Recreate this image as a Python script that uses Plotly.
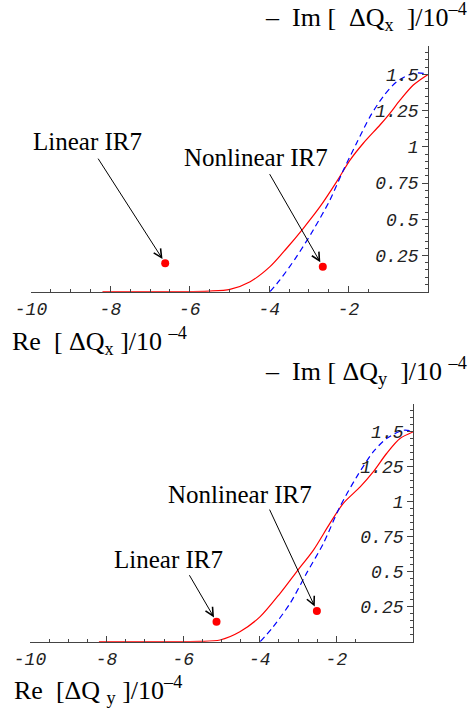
import plotly.graph_objects as go

# ---- data (top panel: x plane) ----
top_red_x = [-8.2, -6.5, -5.5, -4.99, -4.48, -3.98, -3.56, -3.14, -2.72, -2.30, -1.96, -1.63, -1.21, -0.96, -0.70, -0.37, 0.0]
top_red_y = [0.0, 0.0, 0.004, 0.016, 0.069, 0.173, 0.30, 0.438, 0.587, 0.76, 0.91, 1.025, 1.151, 1.232, 1.324, 1.427, 1.5]
top_blue_x = [-3.98, -3.73, -3.31, -2.89, -2.47, -2.13, -1.80, -1.46, -1.13, -0.79, -0.37, 0.0]
top_blue_y = [0.0, 0.081, 0.242, 0.426, 0.633, 0.84, 1.025, 1.209, 1.347, 1.45, 1.508, 1.505]
top_pts_x = [-6.62, -2.65]
top_pts_y = [0.197, 0.173]

# ---- data (bottom panel: y plane) ----
bot_red_x = [-8.2, -6.5, -5.56, -5.04, -4.52, -3.99, -3.47, -3.04, -2.60, -2.17, -1.82, -1.38, -1.04, -0.69, -0.34, 0.0]
bot_red_y = [0.0, 0.0, 0.002, 0.012, 0.071, 0.179, 0.346, 0.50, 0.655, 0.846, 0.989, 1.107, 1.214, 1.346, 1.453, 1.5]
bot_blue_x = [-3.99, -3.65, -3.21, -2.78, -2.34, -1.91, -1.47, -1.04, -0.69, -0.25, 0.0]
bot_blue_y = [0.0, 0.107, 0.274, 0.489, 0.703, 0.964, 1.179, 1.357, 1.453, 1.512, 1.505]
bot_pts_x = [-5.13, -2.51]
bot_pts_y = [0.143, 0.219]

point_labels = ["Linear IR7", "Nonlinear IR7"]

x_tickvals = [-10, -8, -6, -4, -2]
x_ticktext = ["-10", "-8", "-6", "-4", "-2"]
y_tickvals = [0.25, 0.5, 0.75, 1.0, 1.25, 1.5]
y_ticktext = ["0.25", "0.5", "0.75", "1", "1.25", "1.5"]

RED = "#ff0000"
BLUE = "#0000ff"
AX = "#444444"
W, H = 469, 711

fig = go.Figure()

def add_panel(xs, ys_, bx, by, px, py, xa, ya):
    fig.add_trace(go.Scatter(x=xs, y=ys_, mode="lines", line=dict(color=RED, width=1.2, shape="spline", smoothing=0.8),
                             xaxis=xa, yaxis=ya, showlegend=False))
    fig.add_trace(go.Scatter(x=bx, y=by, mode="lines",
                             line=dict(color=BLUE, width=1.2, dash="6px,4px", shape="spline", smoothing=0.8),
                             xaxis=xa, yaxis=ya, showlegend=False))
    fig.add_trace(go.Scatter(x=px, y=py, mode="markers", marker=dict(color=RED, size=8),
                             xaxis=xa, yaxis=ya, showlegend=False, cliponaxis=False))

add_panel(top_red_x, top_red_y, top_blue_x, top_blue_y, top_pts_x, top_pts_y, "x", "y")
add_panel(bot_red_x, bot_red_y, bot_blue_x, bot_blue_y, bot_pts_x, bot_pts_y, "x2", "y2")

tickfont = dict(family="Liberation Mono, Courier New, monospace", size=18, style="italic", color="#222222")

def xaxis_cfg(dom, anchor):
    return dict(domain=dom, anchor=anchor, range=[-10, 0], showgrid=False, zeroline=False, automargin=False,
                showline=True, linecolor=AX, linewidth=1.2, ticks="inside", ticklen=6,
                tickcolor=AX, tickwidth=1, tickvals=x_tickvals, ticktext=x_ticktext,
                tickfont=tickfont, ticklabelstandoff=1,
                minor=dict(dtick=0.5, tick0=0, ticks="inside", ticklen=3, tickcolor=AX, tickwidth=1))

def yaxis_cfg(dom, anchor):
    return dict(domain=dom, anchor=anchor, range=[0, 1.7], side="right", showgrid=False, zeroline=False,
                automargin=False,
                showline=True, linecolor=AX, linewidth=1.2, ticks="inside", ticklen=6,
                tickcolor=AX, tickwidth=1, tickvals=y_tickvals, ticktext=y_ticktext,
                tickfont=tickfont, ticklabelposition="inside", ticklabelstandoff=4,
                minor=dict(dtick=0.05, tick0=0, ticks="inside", ticklen=3, tickcolor=AX, tickwidth=1))

fig.update_layout(
    width=W, height=H, margin=dict(l=0, r=0, t=0, b=0, autoexpand=False),
    paper_bgcolor="white", plot_bgcolor="white",
    xaxis=xaxis_cfg([31 / W, 428 / W], "y"),
    yaxis=yaxis_cfg([1 - 291.7 / H, 1 - 45.5 / H], "x"),
    xaxis2=xaxis_cfg([30 / W, 413 / W], "y2"),
    yaxis2=yaxis_cfg([1 - 641.7 / H, 1 - 404 / H], "x2"),
)

NB = "\u00a0"
serif = "Liberation Serif, Times New Roman, serif"
title_font = dict(family=serif, size=26, color="black")
label_font = dict(family=serif, size=25, color="black")

titles = [
    (f"–{NB}{NB}Im{NB}[{NB}{NB}ΔQ<sub>x</sub>{NB}{NB}]/10<sup>–4</sup>", 469 / W, 1 - 17 / H, "right"),
    (f"Re{NB}{NB}[{NB}ΔQ<sub>x</sub>{NB}]/10{NB}<sup>–4</sup>", 10 / W, 1 - 341 / H, "left"),
    (f"–{NB}{NB}Im{NB}[{NB}ΔQ<sub>y</sub>{NB}{NB}]/10{NB}<sup>–4</sup>", 469 / W, 1 - 371 / H, "right"),
    (f"Re{NB}{NB}[ΔQ{NB}<sub>y</sub>{NB}]/10<sup>–4</sup>", 12 / W, 1 - 690 / H, "left"),
]
for t, x, y, xa in titles:
    fig.add_annotation(text=t, x=x, y=y, xref="paper", yref="paper", xanchor=xa, yanchor="middle",
                       showarrow=False, font=title_font)

# text labels (pixel placement) and arrows
labels = [
    (point_labels[0], 87, 142),
    (point_labels[1], 256, 157),
    (point_labels[1], 240, 494),
    (point_labels[0], 168, 559),
]
for t, x, y in labels:
    fig.add_annotation(text=t, x=x / W, y=1 - y / H, xref="paper", yref="paper", xanchor="center",
                       yanchor="middle", showarrow=False, font=label_font)

arrows = [
    (top_pts_x[0], top_pts_y[0], "x", "y", -68, -106),
    (top_pts_x[1], top_pts_y[1], "x", "y", -54, -94),
    (bot_pts_x[1], bot_pts_y[1], "x2", "y2", -48, -103),
    (bot_pts_x[0], bot_pts_y[0], "x2", "y2", -28, -48),
]
for x, y, xr, yr, ax, ay in arrows:
    fig.add_annotation(text="", x=x, y=y, xref=xr, yref=yr, ax=ax, ay=ay, showarrow=True,
                       arrowhead=5, arrowsize=1.6, arrowwidth=1, arrowcolor="black", standoff=5)

fig.write_html("out.html")
